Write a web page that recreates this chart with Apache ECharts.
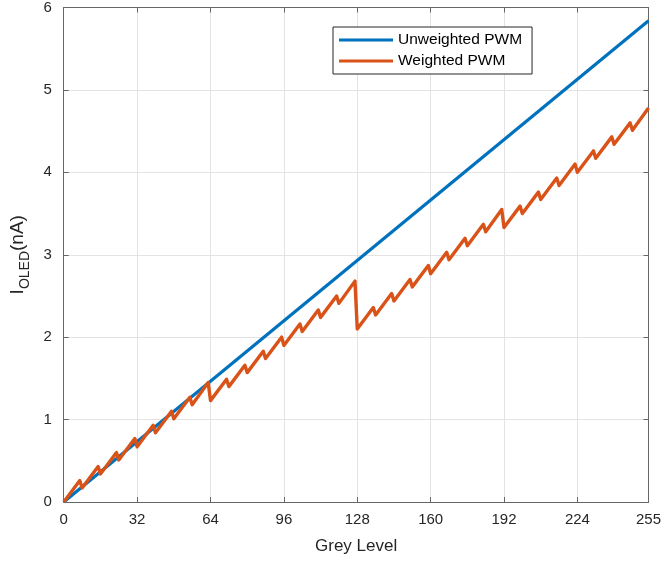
<!DOCTYPE html>
<html>
<head>
<meta charset="utf-8">
<script src="https://cdn.jsdelivr.net/npm/echarts@6/dist/echarts.min.js"></script>
<style>
  html, body { margin: 0; padding: 0; background: #fff; }
  #chart { width: 664px; height: 563px; }
</style>
</head>
<body>
<div id="chart"></div>
<script>
  // x ticks and y ticks
  var xTicks = [0, 32, 64, 96, 128, 160, 192, 224, 255];
  var yTicks = [0, 1, 2, 3, 4, 5, 6];

  // unweighted PWM: straight line, ends
  var unweightedLevels = [0, 255];
  var unweightedValues = [0, 5.84];

  // weighted PWM: each block of 8 grey levels rises from low to high, then drops
  var blockStartLevels = [0, 8, 16, 24, 32, 40, 48, 56, 64, 72, 80, 88, 96, 104, 112, 120,
    128, 136, 144, 152, 160, 168, 176, 184, 192, 200, 208, 216, 224, 232, 240, 248];
  var blockEndLevels = [7, 15, 23, 31, 39, 47, 55, 63, 71, 79, 87, 95, 103, 111, 119, 127,
    135, 143, 151, 159, 167, 175, 183, 191, 199, 207, 215, 223, 231, 239, 247, 255];
  var blockLow = [0, 0.17, 0.34, 0.51, 0.67, 0.84, 1.01, 1.18, 1.23, 1.40, 1.57, 1.74, 1.90, 2.07, 2.24, 2.41,
    2.10, 2.27, 2.44, 2.61, 2.77, 2.94, 3.11, 3.28, 3.33, 3.50, 3.67, 3.84, 4.00, 4.17, 4.34, 4.51];
  var blockHigh = [0.26, 0.43, 0.60, 0.77, 0.93, 1.10, 1.27, 1.45, 1.49, 1.66, 1.83, 2.00, 2.16, 2.33, 2.50, 2.68,
    2.36, 2.53, 2.70, 2.87, 3.03, 3.20, 3.37, 3.55, 3.59, 3.76, 3.93, 4.10, 4.26, 4.43, 4.60, 4.78];

  var unweightedData = unweightedLevels.map(function (g, i) { return [g, unweightedValues[i]]; });
  var weightedData = [];
  for (var i = 0; i < blockStartLevels.length; i++) {
    weightedData.push([blockStartLevels[i], blockLow[i]]);
    weightedData.push([blockEndLevels[i], blockHigh[i]]);
  }

  var FONT = 'Liberation Sans, Arial, sans-serif';
  var axisColor = '#666666';
  var textColor = '#262626';

  var chart = echarts.init(document.getElementById('chart'), null, { renderer: 'canvas' });

  function xAxisCfg(pos, main) {
    return {
      type: 'value',
      position: pos,
      min: xTicks[0],
      max: xTicks[xTicks.length - 1],
      interval: 32,
      name: main ? 'Grey Level' : '',
      nameLocation: 'middle',
      nameGap: 36,
      nameTextStyle: { fontFamily: FONT, fontSize: 17, color: textColor },
      axisLine: { show: true, onZero: false, lineStyle: { color: axisColor, width: 1 } },
      axisTick: { show: true, inside: true, length: 5, lineStyle: { color: axisColor } },
      axisLabel: { show: main, margin: 10, fontFamily: FONT, fontSize: 15, color: textColor },
      splitLine: { show: main, lineStyle: { color: '#e3e3e3', width: 1 } }
    };
  }

  function yAxisCfg(pos, main) {
    return {
      type: 'value',
      position: pos,
      min: yTicks[0],
      max: yTicks[yTicks.length - 1],
      interval: 1,
      name: main ? '{m|I}{s|OLED}{m|(nA)}' : '',
      nameLocation: 'middle',
      nameRotate: 90,
      nameGap: 24,
      nameTextStyle: {
        fontFamily: FONT, color: textColor,
        rich: {
          m: { fontFamily: FONT, fontSize: 19, color: textColor, lineHeight: 30, verticalAlign: 'middle' },
          s: { fontFamily: FONT, fontSize: 14, color: textColor, lineHeight: 30, verticalAlign: 'bottom' }
        }
      },
      axisLine: { show: true, onZero: false, lineStyle: { color: axisColor, width: 1 } },
      axisTick: { show: true, inside: true, length: 5, lineStyle: { color: axisColor } },
      axisLabel: { show: main, margin: 12, fontFamily: FONT, fontSize: 15, color: textColor },
      splitLine: { show: main, lineStyle: { color: '#e3e3e3', width: 1 } }
    };
  }

  var option = {
    backgroundColor: '#ffffff',
    animation: false,
    grid: { left: 63, right: 14, top: 6, bottom: 61, containLabel: false },
    legend: {
      orient: 'vertical',
      left: 333,
      top: 27,
      backgroundColor: '#ffffff',
      borderColor: '#262626',
      borderWidth: 1,
      padding: [5, 10, 5, 6],
      itemGap: 5,
      itemWidth: 54,
      itemHeight: 3,
      icon: 'rect',
      textStyle: { fontFamily: FONT, fontSize: 15.5, color: '#000000' },
      data: ['Unweighted PWM', 'Weighted PWM']
    },
    xAxis: [xAxisCfg('bottom', true), xAxisCfg('top', false)],
    yAxis: [yAxisCfg('left', true), yAxisCfg('right', false)],
    series: [
      {
        name: 'Unweighted PWM',
        type: 'line',
        xAxisIndex: 0,
        yAxisIndex: 0,
        data: unweightedData,
        symbol: 'none',
        lineStyle: { color: '#0072BD', width: 3.2 },
        itemStyle: { color: '#0072BD' }
      },
      {
        name: 'Weighted PWM',
        type: 'line',
        xAxisIndex: 0,
        yAxisIndex: 0,
        data: weightedData,
        symbol: 'none',
        lineStyle: { color: '#D95319', width: 3.4, join: 'round' },
        itemStyle: { color: '#D95319' }
      }
    ]
  };

  chart.setOption(option);
</script>
</body>
</html>
